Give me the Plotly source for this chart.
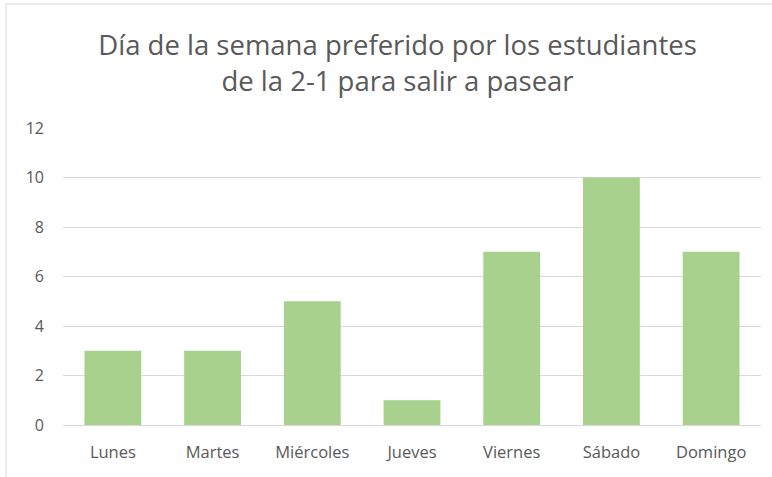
import plotly.graph_objects as go

dias = ["Lunes", "Martes", "Miércoles", "Jueves", "Viernes", "Sábado", "Domingo"]
estudiantes = [3, 3, 5, 1, 7, 10, 7]
y_ticks = [0, 2, 4, 6, 8, 10, 12]
titulo = "Día de la semana preferido por los estudiantes<br>de la 2-1 para salir a pasear"

W, H = 772, 477
L, R, T, B = 63, 11, 128, 52
pw = W - L - R
ph = H - T - B
FONT = "Open Sans, Lato, sans-serif"

fig = go.Figure()
fig.add_trace(go.Bar(x=dias, y=estudiantes, marker=dict(color="#A9D18E", line=dict(width=0)),
                     hoverinfo="x+y"))

fig.update_layout(
    width=W, height=H,
    margin=dict(l=L, r=R, t=T, b=B),
    paper_bgcolor="white", plot_bgcolor="white",
    bargap=0.43,
    showlegend=False,
    font=dict(family=FONT, color="#595959"),
    title=dict(text=titulo, x=397.5 / W, xref="container", xanchor="center",
               y=1 - 55 / H, yref="container", yanchor="middle",
               font=dict(size=27.5, color="#595959", family=FONT)),
    xaxis=dict(showgrid=False, showline=True, linecolor="#d9d9d9", linewidth=1,
               ticks="", tickfont=dict(size=16.5, color="#595959"), ticklabelstandoff=12),
    yaxis=dict(range=[0, 12], tickvals=y_ticks, showgrid=True, gridcolor="#d9d9d9",
               gridwidth=1, zeroline=False, showline=False, ticks="",
               tickfont=dict(size=16, color="#595959"), ticklabelstandoff=18),
    shapes=[dict(type="rect", xref="paper", yref="paper",
                 x0=(6 - L) / pw, x1=1.2, y0=-0.5, y1=1 + (T - 4) / ph,
                 line=dict(color="#d9d9d9", width=1), fillcolor="rgba(0,0,0,0)", layer="below")],
)

fig.write_html("out.html", config={"displayModeBar": False},
               post_script="document.body.style.margin='0';")
